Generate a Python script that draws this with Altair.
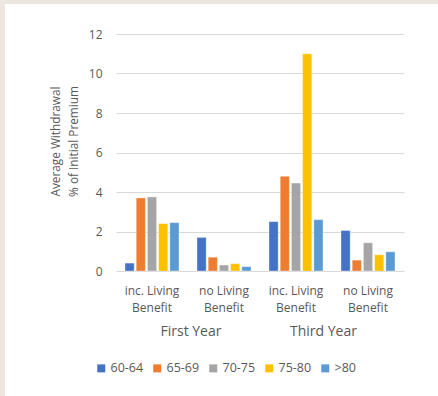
import altair as alt
import pandas as pd

# Chart data
years = ["First Year", "First Year", "Third Year", "Third Year"]
benefits = ["inc. Living\nBenefit", "no Living\nBenefit", "inc. Living\nBenefit", "no Living\nBenefit"]
ages = ["60-64", "65-69", "70-75", "75-80", ">80"]
values = [
    [0.4, 3.7, 3.75, 2.4, 2.45],
    [1.7, 0.7, 0.3, 0.37, 0.22],
    [2.5, 4.8, 4.45, 11.0, 2.6],
    [2.05, 0.55, 1.43, 0.82, 0.97],
]
y_ticks = [0, 2, 4, 6, 8, 10, 12]
colors = ["#4472C4", "#ED7D31", "#A5A5A5", "#FFC000", "#5B9BD5"]

FONT = "Open Sans"
TEXT = "#595959"
GRID = "#D9D9D9"
EDGE = "#EBE7E0"
W, H = 288, 237
LEFT, TOP = 116, 34

keys = [f"{y} / {b}" for y, b in zip(years, benefits)]
rows = []
for k, vals in zip(keys, values):
    for a, v in zip(ages, vals):
        rows.append({"key": k, "age": a, "value": v})
df = pd.DataFrame(rows)
cats = pd.DataFrame({"key": keys, "benefit": benefits})

x_enc = alt.X("key:N", sort=keys, axis=None,
              scale=alt.Scale(paddingInner=0.25, paddingOuter=0.125))

# beige page edge along the left and top of the card
one = pd.DataFrame({"p": [0]})
edge_left = alt.Chart(one).mark_rect(color=EDGE).encode(
    x=alt.value(-LEFT), x2=alt.value(5 - LEFT),
    y=alt.value(-TOP), y2=alt.value(396 - TOP),
)
edge_top = alt.Chart(one).mark_rect(color=EDGE).encode(
    x=alt.value(-LEFT), x2=alt.value(438 - LEFT),
    y=alt.value(-TOP), y2=alt.value(4 - TOP),
)

bars = alt.Chart(df).mark_bar(stroke="white", strokeOpacity=0.45, strokeWidth=0.8).encode(
    x=x_enc,
    xOffset=alt.XOffset("age:N", sort=ages,
                        scale=alt.Scale(paddingInner=0.18, paddingOuter=0)),
    y=alt.Y("value:Q", scale=alt.Scale(domain=[0, 12], nice=False),
            axis=alt.Axis(values=y_ticks, grid=True, gridColor=GRID, domain=False,
                          ticks=False, labelPadding=14, labelFont=FONT,
                          labelFontSize=12, labelColor=TEXT,
                          title=["Average Withdrawal", "% of Initial Premium"],
                          titleFont=FONT, titleFontSize=11.8, titleFontWeight="normal",
                          titleColor=TEXT, titlePadding=9, titleY=107,
                          titleLineHeight=18)),
    color=alt.Color("age:N", sort=ages, scale=alt.Scale(domain=ages, range=colors),
                    legend=alt.Legend(title=None, orient="none", direction="horizontal",
                                      columns=5, legendX=-21, legendY=328,
                                      symbolType="square", symbolSize=64,
                                      symbolStrokeWidth=0, labelFont=FONT,
                                      labelFontSize=12.5, labelColor=TEXT,
                                      labelOffset=3, columnPadding=7)),
)

sub_labels = alt.Chart(cats).mark_text(
    lineBreak="\n", baseline="top", font=FONT, fontSize=12, color=TEXT, lineHeight=16.5
).encode(x=x_enc, y=alt.value(H + 15), text="benefit:N")

layers = [edge_left, edge_top, bars, sub_labels]
# year labels sit under their pair of categories
year_nudge = {"First Year": 39, "Third Year": 27.5}
for yname in ["First Year", "Third Year"]:
    first = keys[years.index(yname)]
    layers.append(
        alt.Chart(pd.DataFrame({"key": [first], "year": [yname]})).mark_text(
            baseline="middle", font=FONT, fontSize=14, color=TEXT, dx=year_nudge[yname]
        ).encode(x=x_enc, y=alt.value(H + 61), text="year:N")
    )

chart = alt.layer(*layers).properties(
    width=W, height=H, background="white",
    padding={"left": LEFT, "top": TOP, "right": 438 - LEFT - W, "bottom": 396 - TOP - H},
    autosize=alt.AutoSizeParams(type="none"),
).configure_view(stroke=None)

chart.save("out.html", embed_options={"renderer": "svg", "actions": False})
